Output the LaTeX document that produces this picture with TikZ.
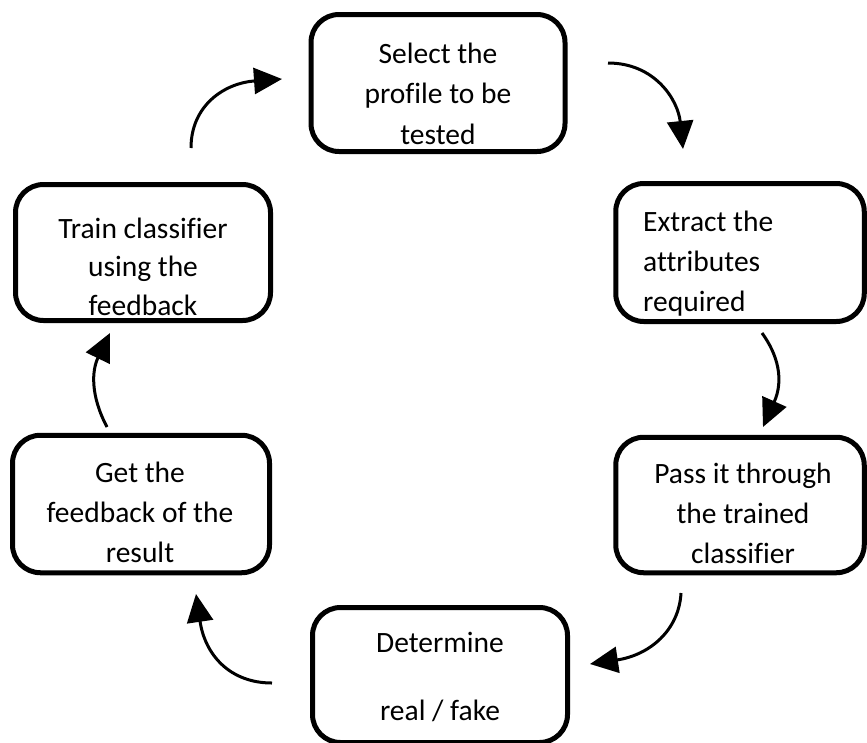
\documentclass[tikz,border=0pt]{standalone}
\usepackage{fontspec}
\setmainfont{Carlito}[Ligatures=NoCommon]
\usetikzlibrary{arrows.meta}
\begin{document}
\begin{tikzpicture}[x=1pt,y=-1pt,
  box/.style={draw=black, line width=5pt, rounded corners=28pt, inner sep=0pt, outer sep=0pt},
  txt/.style={font=\fontsize{29.5}{36}\selectfont, inner sep=0pt, anchor=base, text=black},
  txtl/.style={txt, anchor=base west},
  flow/.style={draw=black, line width=3pt, -{Triangle[length=28pt,width=26pt]}}
]
\useasboundingbox[fill=white] (0,0) rectangle (867,742);

% boxes
\node[box, minimum width=254pt, minimum height=137pt] (b1) at (438,83) {};
\node[box, minimum width=248.5pt, minimum height=138pt] (b2) at (740,252.5) {};
\node[box, minimum width=248.5pt, minimum height=135.5pt] (b3) at (740,505) {};
\node[box, minimum width=255pt, minimum height=135pt] (b4) at (440,675) {};
\node[box, minimum width=257pt, minimum height=137.5pt] (b5) at (141,504) {};
\node[box, minimum width=255pt, minimum height=136pt] (b6) at (143,252.5) {};

% texts
\node[txt] (t1a) at (438,63) {Select the};
\node[txt] (t1b) at (438,103) {profile to be};
\node[txt] (t1c) at (438,144) {tested};

\node[txtl] (t2a) at (643,231) {Extract the};
\node[txtl] (t2b) at (643,271) {attributes};
\node[txtl] (t2c) at (643,311) {required};

\node[txt] (t3a) at (743,483) {Pass it through};
\node[txt] (t3b) at (743,523) {the trained};
\node[txt] (t3c) at (743,563) {classifier};

\node[txt] (t4a) at (440,652) {Determine};
\node[txt] (t4b) at (440,720) {real / fake};

\node[txt] (t5a) at (140,482) {Get the};
\node[txt] (t5b) at (140,522) {feedback of the};
\node[txt] (t5c) at (140,562) {result};

\node[txt] (t6a) at (143,238) {Train classifier};
\node[txt] (t6b) at (143,276.5) {using the};
\node[txt] (t6c) at (143,315) {feedback};

% arrow end points
\coordinate (a1s) at (608,63);   \coordinate (a1e) at (683,149);
\coordinate (a2s) at (762,333);  \coordinate (a2e) at (763,427);
\coordinate (a3s) at (681,593);  \coordinate (a3e) at (590,664);
\coordinate (a4s) at (272,683);  \coordinate (a4e) at (196,594);
\coordinate (a5s) at (107,427);  \coordinate (a5e) at (110,333);
\coordinate (a6s) at (191,148);  \coordinate (a6e) at (282,79);

% arrows
\draw[flow] (a1s) .. controls (655,63) and (678,100) .. (a1e);
\draw[flow] (a2s) .. controls (778,355) and (784,380) .. (a2e);
\draw[flow] (a3s) .. controls (679,630) and (650,655) .. (a3e);
\draw[flow] (a4s) .. controls (230,683) and (205,655) .. (a4e);
\draw[flow] (a5s) .. controls (90,395) and (92,370) .. (a5e);
\draw[flow] (a6s) .. controls (191,105) and (225,83) .. (a6e);
\end{tikzpicture}
\end{document}
